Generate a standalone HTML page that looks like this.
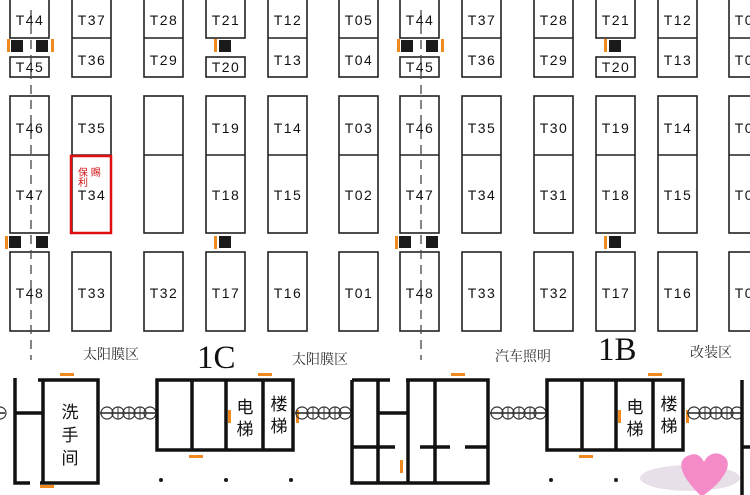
<!DOCTYPE html>
<html><head><meta charset="utf-8"><style>
body{margin:0;background:#fff}
svg{display:block}
.b{fill:#fff;stroke:#222;stroke-width:1.6}
.t{font-family:"Liberation Sans",sans-serif;font-size:14px;fill:#111;text-anchor:middle;letter-spacing:1.5px}
.c{font-family:"Liberation Serif","Noto Serif CJK SC",serif;font-size:14px;fill:#333}
.k{font-family:"Liberation Sans","Noto Sans CJK SC",sans-serif;font-size:17px;fill:#111;text-anchor:middle}
.w{stroke:#111;stroke-width:3.5;fill:none}
.o{fill:#f08a1e}
.s{fill:#1a1a1a}
</style></head><body>
<svg width="750" height="495" viewBox="0 0 750 495" xmlns="http://www.w3.org/2000/svg">
<defs>
<g id="half">
 <!-- top row -->
 <rect class="b" x="10" y="-2" width="39" height="40"/><rect class="b" x="10" y="57" width="39" height="20"/>
 <rect class="b" x="72" y="-2" width="39" height="79"/><line x1="72" y1="38" x2="111" y2="38" stroke="#222" stroke-width="1.6"/>
 <rect class="b" x="144" y="-2" width="39" height="79"/><line x1="144" y1="38" x2="183" y2="38" stroke="#222" stroke-width="1.6"/>
 <rect class="b" x="206" y="-2" width="39" height="40"/><rect class="b" x="206" y="57" width="39" height="20"/>
 <rect class="b" x="268" y="-2" width="39" height="79"/><line x1="268" y1="38" x2="307" y2="38" stroke="#222" stroke-width="1.6"/>
 <rect class="b" x="339" y="-2" width="39" height="79"/><line x1="339" y1="38" x2="378" y2="38" stroke="#222" stroke-width="1.6"/>
 <!-- middle -->
 <rect class="b" x="10" y="96" width="39" height="137"/><line x1="10" y1="155" x2="49" y2="155" stroke="#222" stroke-width="1.6"/>
 <rect class="b" x="72" y="96" width="39" height="137"/><line x1="72" y1="155" x2="111" y2="155" stroke="#222" stroke-width="1.6"/>
 <rect class="b" x="144" y="96" width="39" height="137"/><line x1="144" y1="155" x2="183" y2="155" stroke="#222" stroke-width="1.6"/>
 <rect class="b" x="206" y="96" width="39" height="137"/><line x1="206" y1="155" x2="245" y2="155" stroke="#222" stroke-width="1.6"/>
 <rect class="b" x="268" y="96" width="39" height="137"/><line x1="268" y1="155" x2="307" y2="155" stroke="#222" stroke-width="1.6"/>
 <rect class="b" x="339" y="96" width="39" height="137"/><line x1="339" y1="155" x2="378" y2="155" stroke="#222" stroke-width="1.6"/>
 <!-- bottom -->
 <rect class="b" x="10" y="252" width="39" height="79"/><rect class="b" x="72" y="252" width="39" height="79"/>
 <rect class="b" x="144" y="252" width="39" height="79"/><rect class="b" x="206" y="252" width="39" height="79"/>
 <rect class="b" x="268" y="252" width="39" height="79"/><rect class="b" x="339" y="252" width="39" height="79"/>
 <!-- blocks -->
 <rect class="o" x="7" y="39" width="3" height="13"/><rect class="s" x="11" y="40" width="12" height="12"/>
 <rect class="s" x="36" y="40" width="12" height="12"/><rect class="o" x="51" y="39" width="3" height="13"/>
 <rect class="o" x="214" y="39" width="3" height="13"/><rect class="s" x="219" y="40" width="12" height="12"/>
 <rect class="o" x="5" y="236" width="3" height="13"/><rect class="s" x="9" y="236" width="12" height="12"/>
 <rect class="s" x="36" y="236" width="12" height="12"/>
 <rect class="o" x="214" y="236" width="3" height="13"/><rect class="s" x="219" y="236" width="12" height="12"/>
 <line x1="31" y1="10" x2="31" y2="360" stroke="#444" stroke-width="1.3" stroke-dasharray="9,6"/>
</g>
<g id="chain">
 <line x1="0" y1="0" x2="55" y2="0" stroke="#222" stroke-width="1.5"/>
 <circle cx="7" cy="0" r="6" fill="none" stroke="#333" stroke-width="1.2"/><circle cx="18" cy="0" r="6" fill="none" stroke="#333" stroke-width="1.2"/>
 <circle cx="29" cy="0" r="6" fill="none" stroke="#333" stroke-width="1.2"/><circle cx="40" cy="0" r="6" fill="none" stroke="#333" stroke-width="1.2"/>
 <circle cx="50" cy="0" r="6" fill="none" stroke="#333" stroke-width="1.2"/>
 <line x1="18" y1="-6" x2="18" y2="6" stroke="#333"/><line x1="29" y1="-6" x2="29" y2="6" stroke="#333"/><line x1="40" y1="-6" x2="40" y2="6" stroke="#333"/>
</g>
<g id="bld">
 <path class="w" d="M0,0 H136 V70 H0 Z M35,0 V70 M69,0 V70 M106,0 V70"/>
 <rect class="o" x="101" y="-7" width="14" height="3"/><rect class="o" x="32" y="75" width="14" height="3"/>
 <rect class="o" x="71" y="30" width="3" height="13"/><rect class="o" x="139" y="30" width="3" height="13"/>
 <text class="k" x="88" y="33">电</text><text class="k" x="88" y="55">梯</text>
 <text class="k" x="122" y="30">楼</text><text class="k" x="122" y="52">梯</text>
 <circle cx="4" cy="100" r="2" class="s"/><circle cx="69" cy="100" r="2" class="s"/><circle cx="134" cy="100" r="2" class="s"/>
</g>
</defs>
<use href="#half"/>
<use href="#half" x="390"/>
<rect x="71" y="156" width="40" height="77" fill="none" stroke="#e01010" stroke-width="2.5"/>
<text x="78" y="176" font-family="Liberation Sans,Noto Sans CJK SC,sans-serif" font-size="10" fill="#d01010">保 赐</text>
<text x="78" y="186" font-family="Liberation Sans,Noto Sans CJK SC,sans-serif" font-size="10" fill="#d01010">利</text>
<g class="t">
<text x="30" y="25">T44</text><text x="92" y="25">T37</text><text x="164" y="25">T28</text><text x="226" y="25">T21</text><text x="288" y="25">T12</text><text x="359" y="25">T05</text>
<text x="30" y="72">T45</text><text x="92" y="65">T36</text><text x="164" y="65">T29</text><text x="226" y="72">T20</text><text x="288" y="65">T13</text><text x="359" y="65">T04</text>
<text x="30" y="133">T46</text><text x="92" y="133">T35</text><text x="226" y="133">T19</text><text x="288" y="133">T14</text><text x="359" y="133">T03</text>
<text x="30" y="200">T47</text><text x="92" y="200">T34</text><text x="226" y="200">T18</text><text x="288" y="200">T15</text><text x="359" y="200">T02</text>
<text x="30" y="298">T48</text><text x="92" y="298">T33</text><text x="164" y="298">T32</text><text x="226" y="298">T17</text><text x="288" y="298">T16</text><text x="359" y="298">T01</text>
<text x="420" y="25">T44</text><text x="482" y="25">T37</text><text x="554" y="25">T28</text><text x="616" y="25">T21</text><text x="678" y="25">T12</text><text x="749" y="25">T05</text>
<text x="420" y="72">T45</text><text x="482" y="65">T36</text><text x="554" y="65">T29</text><text x="616" y="72">T20</text><text x="678" y="65">T13</text><text x="749" y="65">T04</text>
<text x="420" y="133">T46</text><text x="482" y="133">T35</text><text x="554" y="133">T30</text><text x="616" y="133">T19</text><text x="678" y="133">T14</text><text x="749" y="133">T03</text>
<text x="420" y="200">T47</text><text x="482" y="200">T34</text><text x="554" y="200">T31</text><text x="616" y="200">T18</text><text x="678" y="200">T15</text><text x="749" y="200">T02</text>
<text x="420" y="298">T48</text><text x="482" y="298">T33</text><text x="554" y="298">T32</text><text x="616" y="298">T17</text><text x="678" y="298">T16</text><text x="749" y="298">T01</text>
</g>
<text class="c" x="83" y="359">太阳膜区</text>
<text class="c" x="292" y="364">太阳膜区</text>
<text class="c" x="495" y="361">汽车照明</text>
<text class="c" x="690" y="357">改装区</text>
<text x="197" y="368" font-family="Liberation Serif,serif" font-size="33" fill="#111">1C</text>
<text x="598" y="360" font-family="Liberation Serif,serif" font-size="33" fill="#111">1B</text>
<!-- toilet building -->
<path class="w" d="M15,378 V483 H30 M40,483 H98 V380 H38 M43,380 V483 M15,413 H43"/>
<rect class="o" x="60" y="373" width="14" height="3"/><rect class="o" x="40" y="485" width="14" height="3"/>
<text class="k" x="70" y="418">洗</text><text class="k" x="70" y="441">手</text><text class="k" x="70" y="464">间</text>
<use href="#chain" x="0" y="413" transform="translate(-50,0)"/>
<use href="#chain" x="100" y="413"/>
<use href="#bld" x="157" y="380"/>
<use href="#chain" x="295" y="413"/>
<!-- middle building -->
<path class="w" d="M352,380 H390 M406,380 H488 V483 H352 V380 M378,380 V483 M408,380 V483 M435,380 V483 M352,447 H395 M420,447 H450 M465,447 H488 M378,413 H408"/>
<rect class="o" x="451" y="373" width="14" height="3"/><rect class="o" x="400" y="460" width="3" height="13"/>
<use href="#chain" x="490" y="413"/>
<use href="#bld" x="547" y="380"/>
<use href="#chain" x="687" y="413"/>
<path class="w" d="M742,380 V495 M742,447 H750"/>
<!-- heart -->
<ellipse cx="690" cy="478" rx="50" ry="13" fill="#e8e0e8"/>
<path d="M700,495 C680,475 675,460 690,455 C698,452 702,458 704,462 C707,455 715,451 722,455 C735,462 725,480 704,495 Z" fill="#f58ac8"/>
</svg>
</body></html>
